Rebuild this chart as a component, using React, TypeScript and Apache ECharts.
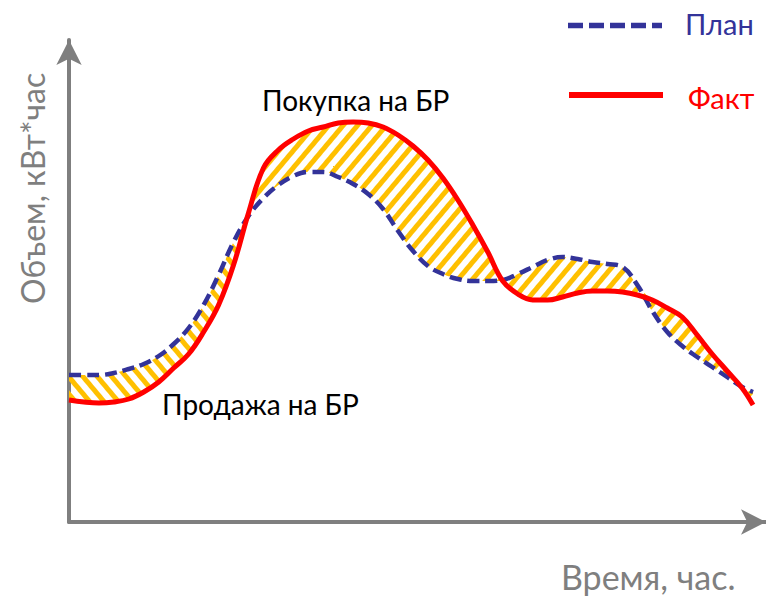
import React, { useEffect, useRef } from 'react';
import * as echarts from 'echarts';

// Time of day, minutes after midnight
const minutesOfDay = [
  0, 30, 60, 90, 120, 150, 180, 210, 240, 270, 300, 330, 360, 390, 420, 450,
  480, 510, 540, 570, 600, 630, 660, 690, 720, 750, 780, 810, 840, 870, 900,
  930, 960, 990, 1020, 1050, 1080, 1110, 1140, 1170, 1200, 1230, 1260, 1290, 1320, 1350, 1372,
];

// Planned volume
const planValues = [
  147, 147, 147, 149, 153, 158, 166, 178, 194, 217, 247, 280, 306, 324, 337, 346,
  350, 350, 345, 338, 328, 313, 291, 271, 256, 248, 243, 241, 241, 242, 248,
  255, 262, 265, 263, 260, 258, 255, 237, 211, 190, 176, 165, 155, 145, 135, 130,
];

// Actual volume
const factValues = [
  122, 120, 119, 120, 123, 130, 140, 154, 168, 190, 217, 257, 309, 354, 372, 383,
  391, 395, 399, 400, 399, 395, 387, 376, 362, 344, 322, 297, 270, 241, 228,
  222, 222, 225, 229, 231, 231, 230, 227, 222, 214, 205, 187, 168, 151, 134, 117,
];

const seriesNames = ['План', 'Факт'];
const annotations = ['Покупка на БР', 'Продажа на БР'];
const axisNames = ['Время, час.', 'Объем, кВт*час'];

const DAY_START = Date.UTC(2024, 0, 1, 0, 0, 0);
const TIME_SPAN_MIN = 1398;
const VOLUME_MAX = 482;

const FONT = 'Lato, "Noto Sans", sans-serif';
const PLAN_COLOR = '#333399';
const FACT_COLOR = '#ff0000';
const AXIS_COLOR = '#7f7f7f';
const HATCH_COLOR = '#FFC000';

function hatch(angleDeg: number) {
  return {
    symbol: 'rect',
    symbolSize: 1,
    color: HATCH_COLOR,
    backgroundColor: 'rgba(255,255,255,0)',
    dashArrayX: [1, 0],
    dashArrayY: [5, 6],
    rotation: (angleDeg * Math.PI) / 180,
  };
}

export default function App() {
  const ref = useRef<HTMLDivElement>(null);

  useEffect(() => {
    if (!ref.current) return;
    const chart = echarts.init(ref.current, undefined, { renderer: 'svg' });

    const ts = minutesOfDay.map((m) => DAY_START + m * 60000);
    const planData = ts.map((t, i) => [t, planValues[i]]);
    const factData = ts.map((t, i) => [t, factValues[i]]);
    const baseData = ts.map((t, i) => [t, Math.min(planValues[i], factValues[i])]);
    // first point where the fact rises above the plan
    const firstCross = factValues.findIndex((f, i) => f > planValues[i]);
    const gap = (i: number) => Math.abs(planValues[i] - factValues[i]);
    const earlyBand = ts.map((t, i) => [t, i < firstCross ? gap(i) : 0]);
    const laterBand = ts.map((t, i) => [t, i >= firstCross ? gap(i) : 0]);

    const axisLine = {
      show: true,
      symbol: ['none', 'arrow'],
      symbolSize: [19, 25],
      lineStyle: { color: AXIS_COLOR, width: 4 },
    };
    const hidden = {
      axisTick: { show: false },
      axisLabel: { show: false },
      splitLine: { show: false },
    };

    const smooth = 0.4;
    const invisible = {
      type: 'line',
      smooth,
      showSymbol: false,
      symbol: 'none',
      silent: true,
      lineStyle: { opacity: 0, width: 0 },
      z: 1,
    };

    chart.setOption({
      animation: false,
      grid: { left: 69, right: -2, top: 40, bottom: 78 },
      xAxis: {
        type: 'time',
        min: DAY_START,
        max: DAY_START + TIME_SPAN_MIN * 60000,
        axisLine,
        ...hidden,
      },
      yAxis: { type: 'value', min: 0, max: VOLUME_MAX, axisLine, ...hidden },
      series: [
        { ...invisible, name: 'baseEarly', stack: 'early', data: baseData },
        {
          ...invisible,
          name: 'early',
          stack: 'early',
          data: earlyBand,
          itemStyle: { decal: hatch(50) },
          areaStyle: { color: 'rgba(255,255,255,0.01)', opacity: 1 },
        },
        { ...invisible, name: 'baseLater', stack: 'later', data: baseData },
        {
          ...invisible,
          name: 'later',
          stack: 'later',
          data: laterBand,
          itemStyle: { decal: hatch(-50) },
          areaStyle: { color: 'rgba(255,255,255,0.01)', opacity: 1 },
        },
        {
          name: seriesNames[0],
          type: 'line',
          data: planData,
          smooth,
          showSymbol: false,
          symbol: 'none',
          lineStyle: { color: PLAN_COLOR, width: 4.5, type: [12, 6], cap: 'butt' },
          z: 3,
        },
        {
          name: seriesNames[1],
          type: 'line',
          data: factData,
          smooth,
          showSymbol: false,
          symbol: 'none',
          lineStyle: { color: FACT_COLOR, width: 5 },
          z: 4,
        },
      ],
      graphic: [
        {
          type: 'text',
          x: 262,
          y: 100,
          z: 10,
          style: { text: annotations[0], fill: '#000000', font: `28px ${FONT}`, verticalAlign: 'middle', align: 'left' },
        },
        {
          type: 'text',
          x: 162,
          y: 404,
          z: 10,
          style: { text: annotations[1], fill: '#000000', font: `28px ${FONT}`, verticalAlign: 'middle', align: 'left' },
        },
        {
          type: 'text',
          x: 561,
          y: 576,
          z: 10,
          style: { text: axisNames[0], fill: AXIS_COLOR, font: `34px ${FONT}`, verticalAlign: 'middle', align: 'left' },
        },
        {
          type: 'text',
          x: 32,
          y: 304,
          z: 10,
          rotation: Math.PI / 2,
          style: { text: axisNames[1], fill: AXIS_COLOR, font: `32px ${FONT}`, verticalAlign: 'middle', align: 'left' },
        },
        {
          type: 'line',
          z: 10,
          shape: { x1: 568, y1: 25.5, x2: 662, y2: 25.5 },
          style: { stroke: PLAN_COLOR, lineWidth: 5.5, lineDash: [15, 6] },
        },
        {
          type: 'line',
          z: 10,
          shape: { x1: 569, y1: 95, x2: 663, y2: 95 },
          style: { stroke: FACT_COLOR, lineWidth: 6 },
        },
        {
          type: 'text',
          x: 685,
          y: 23,
          z: 10,
          style: { text: seriesNames[0], fill: PLAN_COLOR, font: `29px ${FONT}`, verticalAlign: 'middle', align: 'left' },
        },
        {
          type: 'text',
          x: 688,
          y: 97,
          z: 10,
          style: { text: seriesNames[1], fill: FACT_COLOR, font: `29px ${FONT}`, verticalAlign: 'middle', align: 'left' },
        },
      ],
    });

    return () => chart.dispose();
  }, []);

  return (
    <div
      ref={ref}
      style={{ position: 'absolute', left: 0, top: 0, width: 766, height: 600, background: '#ffffff' }}
    />
  );
}
